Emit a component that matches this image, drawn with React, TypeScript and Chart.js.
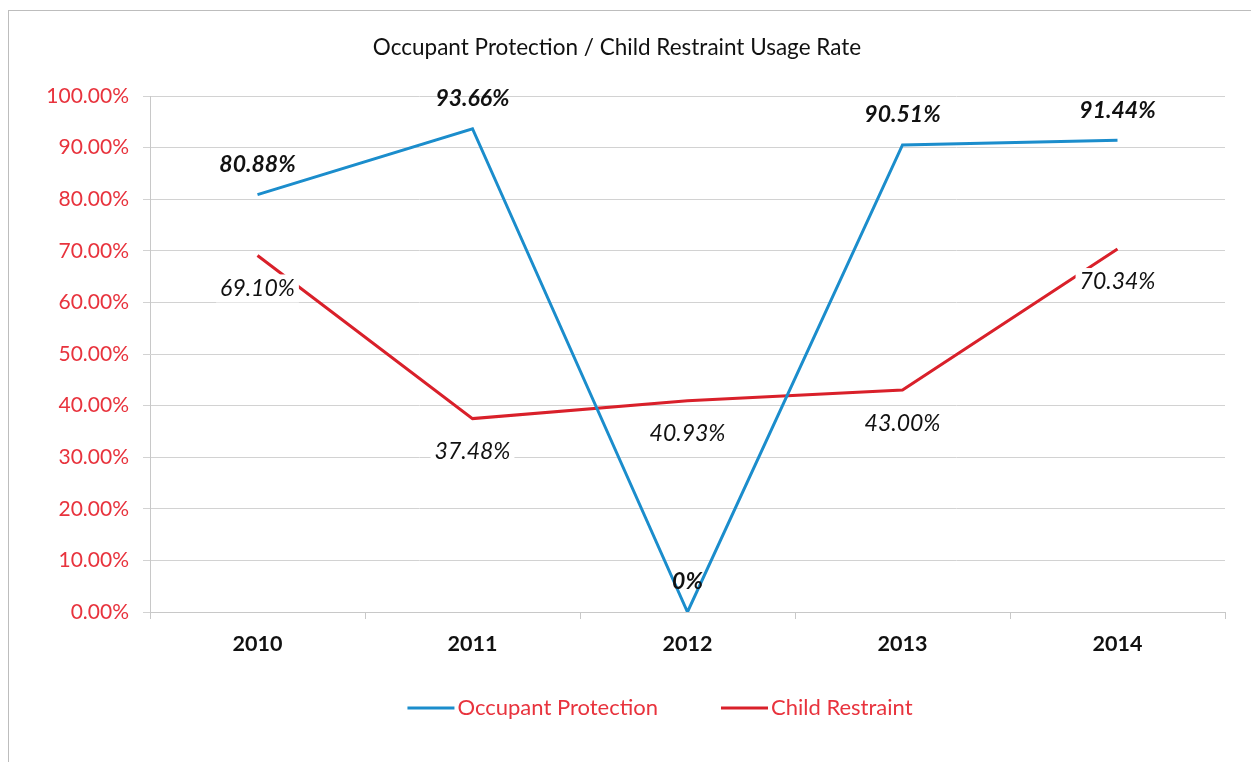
import React, { useEffect, useRef } from "react";
import { Chart, registerables } from "chart.js";

Chart.register(...registerables);

const years = ["2010", "2011", "2012", "2013", "2014"];
const occupantProtection = [80.88, 93.66, 0, 90.51, 91.44];
const childRestraint = [69.1, 37.48, 40.93, 43.0, 70.34];
const yTicks = [0, 10, 20, 30, 40, 50, 60, 70, 80, 90, 100];

const BLUE = "#1b8dcc";
const RED = "#d9202a";
const TICK_RED = "#e8333d";
const FONT = "Lato, 'Noto Sans', sans-serif";

const fmt = (v: number) => (v === 0 ? "0%" : v.toFixed(2) + "%");

const dataLabels = {
  id: "dataLabels",
  afterDatasetsDraw(chart: any) {
    const ctx = chart.ctx;
    chart.data.datasets.forEach((ds: any, di: number) => {
      const meta = chart.getDatasetMeta(di);
      meta.data.forEach((pt: any, i: number) => {
        const v = ds.data[i];
        const text = fmt(v);
        const above = di === 0;
        ctx.save();
        ctx.font = (above ? "italic bold 23px " : "italic 23px ") + FONT;
        ctx.textAlign = "center";
        ctx.textBaseline = "middle";
        const y = above ? pt.y - 30 : pt.y + 33;
        if (!above) {
          const w = ctx.measureText(text).width + 8;
          ctx.fillStyle = "#ffffff";
          ctx.fillRect(pt.x - w / 2, y - 14, w, 28);
        }
        ctx.fillStyle = "#111111";
        ctx.fillText(text, pt.x, y);
        ctx.restore();
      });
    });
  },
};

const bottomLegend = {
  id: "bottomLegend",
  afterDraw(chart: any) {
    const ctx = chart.ctx;
    const lineW = 47;
    const textGap = 3;
    const itemGap = 63;
    ctx.save();
    ctx.font = "22px " + FONT;
    ctx.textBaseline = "middle";
    const items = chart.data.datasets.map((ds: any) => ({
      label: ds.label,
      color: ds.borderColor,
      w: lineW + textGap + ctx.measureText(ds.label).width,
    }));
    const total =
      items.reduce((a: number, it: any) => a + it.w, 0) + itemGap * (items.length - 1);
    let x = chart.width / 2 + 30 - total / 2;
    const y = chart.chartArea.bottom + 96;
    items.forEach((it: any) => {
      ctx.strokeStyle = it.color;
      ctx.lineWidth = 3;
      ctx.beginPath();
      ctx.moveTo(x, y);
      ctx.lineTo(x + lineW, y);
      ctx.stroke();
      ctx.fillStyle = TICK_RED;
      ctx.fillText(it.label, x + lineW + textGap, y);
      x += it.w + itemGap;
    });
    ctx.restore();
  },
};

export default function App() {
  const ref = useRef<HTMLCanvasElement>(null);
  useEffect(() => {
    if (!ref.current) return;
    const chart = new Chart(ref.current, {
      type: "line",
      data: {
        labels: years,
        datasets: [
          {
            label: "Occupant Protection",
            data: occupantProtection,
            borderColor: BLUE,
            backgroundColor: BLUE,
            borderWidth: 3,
            pointRadius: 0,
            tension: 0,
          },
          {
            label: "Child Restraint",
            data: childRestraint,
            borderColor: RED,
            backgroundColor: RED,
            borderWidth: 3,
            pointRadius: 0,
            tension: 0,
          },
        ],
      },
      options: {
        animation: false,
        responsive: false,
        layout: { padding: { left: 0, right: 26, top: 0, bottom: 102 } },
        plugins: {
          title: {
            display: true,
            text: "Occupant Protection / Child Restraint Usage Rate",
            color: "#111111",
            font: { family: FONT, size: 22.5, weight: "normal" },
            padding: { top: 23, bottom: 35 },
          },
          legend: { display: false },
          tooltip: { enabled: false },
        },
        scales: {
          x: {
            offset: true,
            grid: {
              offset: true,
              drawOnChartArea: false,
              drawTicks: true,
              tickLength: 7,
              color: "#c8c8c8",
            },
            border: { display: true, color: "#c8c8c8" },
            ticks: {
              color: "#111111",
              font: { family: FONT, size: 21.5, weight: "bold" },
              padding: 12,
            },
            afterFit: (s: any) => {
              s.height = 48;
            },
          },
          y: {
            min: 0,
            max: 100,
            afterBuildTicks: (s: any) => {
              s.ticks = yTicks.map((v) => ({ value: v }));
            },
            grid: { color: "#d2d2d2", tickLength: 7, drawTicks: true },
            border: { display: true, color: "#c8c8c8" },
            ticks: {
              color: TICK_RED,
              font: { family: FONT, size: 21 },
              padding: 14,
              callback: (v: any) => Number(v).toFixed(2) + "%",
            },
            afterFit: (s: any) => {
              s.width = 141;
            },
          },
        },
      },
      plugins: [dataLabels, bottomLegend],
    });
    return () => chart.destroy();
  }, []);
  return (
    <div
      style={{
        position: "fixed",
        left: 8,
        top: 10,
        width: 1243,
        height: 752,
        borderLeft: "1px solid #bdbdbd",
        borderTop: "1px solid #bdbdbd",
        background: "#fff",
      }}
    >
      <canvas ref={ref} width={1242} height={751} style={{ display: "block" }} />
    </div>
  );
}
